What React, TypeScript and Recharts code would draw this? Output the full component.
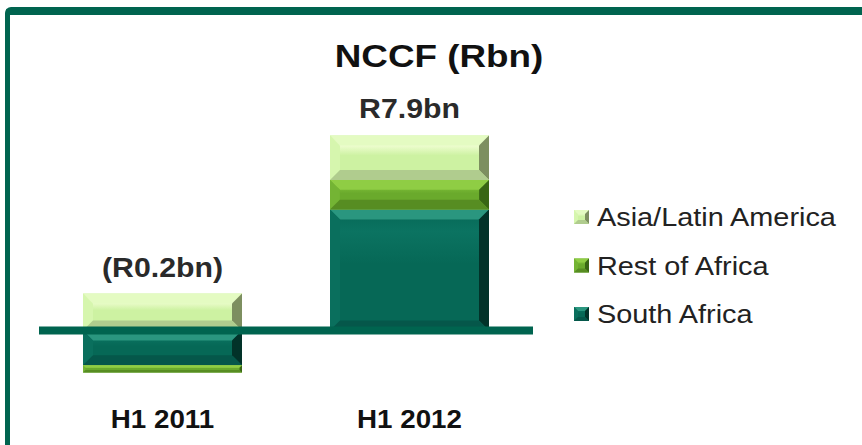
import React from 'react';
import { BarChart, Bar, XAxis, YAxis, ReferenceLine, LabelList, Legend } from 'recharts';

const periods = ['H1 2011', 'H1 2012'];
const southAfrica = [-1.4, 4.9];
const restOfAfrica = [-0.3, 1.2];
const asiaLatam = [1.5, 1.8];
const totals = [-0.2, 7.9];

const data = periods.map((period, i) => ({
    period,
    sa: southAfrica[i],
    roa: restOfAfrica[i],
    asia: asiaLatam[i],
    total: totals[i],
}));

const FONT = 'Arial, "Liberation Sans", sans-serif';
const GREEN = '#00644f';

// stacked bottom -> top
const series = [
    { key: 'sa', name: 'South Africa', face: '#066856', top: '#2a967f', left: '#0a6f5d', right: '#023229', bottom: '#05574a', shine: '#0b7361' },
    { key: 'roa', name: 'Rest of Africa', face: '#6aaa2c', top: '#8fcd44', left: '#74b434', right: '#386614', bottom: '#578d22', shine: '#80c23a' },
    { key: 'asia', name: 'Asia/Latin America', face: '#cdf2a2', top: '#e4fbc2', left: '#d6f6ae', right: '#7d8f60', bottom: '#b0cc8e', shine: '#f4ffd8' },
];

type Colors = typeof series[number];

function bevel(x: number, y: number, w: number, h: number, b: number, c: Colors, id: string) {
    return (
        <g>
            <rect x={x} y={y} width={w} height={h} fill={`url(#face-${id})`} />
            <polygon points={`${x},${y} ${x + w},${y} ${x + w - b},${y + b} ${x + b},${y + b}`} fill={c.top} />
            <polygon points={`${x},${y} ${x + b},${y + b} ${x + b},${y + h - b} ${x},${y + h}`} fill={c.left} />
            <polygon points={`${x + w},${y} ${x + w},${y + h} ${x + w - b},${y + h - b} ${x + w - b},${y + b}`} fill={c.right} />
            <polygon points={`${x},${y + h} ${x + b},${y + h - b} ${x + w - b},${y + h - b} ${x + w},${y + h}`} fill={c.bottom} />
        </g>
    );
}

const makeShape = (c: Colors) => (props: any) => {
    let { x, y, width: w, height: h } = props;
    if (h < 0) { y += h; h = -h; }
    if (!w || !h) return <g />;
    const b = Math.min(10, h / 3, w / 3);
    return bevel(x, y, w, h, b, c, c.key);
};

const formatTotal = (v: number) => (v < 0 ? `(R${Math.abs(v).toFixed(1)}bn)` : `R${v.toFixed(1)}bn`);

const TotalLabel = (props: any) => {
    const { x, y, width, index } = props;
    return (
        <text
            transform={`translate(${x + width / 2},${y - 17}) scale(1.08,1)`}
            textAnchor="middle"
            fontFamily={FONT}
            fontWeight="bold"
            fontSize={28}
            fill="#2a2a2a"
        >
            {formatTotal(totals[index])}
        </text>
    );
};

const PeriodTick = (props: any) => {
    const { x, y, payload } = props;
    return (
        <text
            transform={`translate(${x},${y + 48}) scale(1.11,1)`}
            textAnchor="middle"
            fontFamily={FONT}
            fontWeight="bold"
            fontSize={25}
            fill="#111"
        >
            {payload.value}
        </text>
    );
};

const LegendBox = () => {
    const rows = [...series].reverse();
    return (
        <svg width={280} height={150} style={{ display: 'block' }}>
            {rows.map((s, i) => {
                const base = 36 + i * 48.5;
                return (
                    <g key={s.key}>
                        {bevel(0, base - 16, 15, 14, 4, s, s.key)}
                        <text
                            transform={`translate(23,${base}) scale(1.11,1)`}
                            fontFamily={FONT}
                            fontSize={26}
                            fill="#222"
                        >
                            {s.name}
                        </text>
                    </g>
                );
            })}
        </svg>
    );
};

export default function App() {
    return (
        <div style={{ position: 'fixed', left: 0, top: 0, width: 862, height: 445, overflow: 'hidden', background: '#fff' }}>
            <div
                style={{
                    position: 'absolute', left: 5, top: 7, width: 900, height: 500,
                    borderTop: `8px solid ${GREEN}`, borderLeft: `5px solid ${GREEN}`, borderTopLeftRadius: 6,
                }}
            />
            <div
                style={{
                    position: 'absolute', left: 239, top: 41, width: 400, textAlign: 'center',
                    fontFamily: FONT, fontWeight: 'bold', fontSize: 32, lineHeight: '31px', color: '#111',
                    transform: 'scaleX(1.15)',
                }}
            >
                NCCF (Rbn)
            </div>
            <div style={{ position: 'absolute', left: 0, top: 0 }}>
                <BarChart
                    width={862}
                    height={445}
                    data={data}
                    stackOffset="sign"
                    margin={{ top: 133, right: 329, left: 39, bottom: 0 }}
                >
                    <defs>
                        {series.map((s) => (
                            <linearGradient key={s.key} id={`face-${s.key}`} x1="0" y1="0" x2="0" y2="1">
                                <stop offset="0%" stopColor={s.face} />
                                <stop offset="18%" stopColor={s.shine} />
                                <stop offset="45%" stopColor={s.face} />
                                <stop offset="100%" stopColor={s.face} />
                            </linearGradient>
                        ))}
                    </defs>
                    <XAxis
                        dataKey="period"
                        height={65}
                        axisLine={false}
                        tickLine={false}
                        tickSize={0}
                        tickMargin={0}
                        tick={<PeriodTick />}
                        interval={0}
                    />
                    <YAxis hide domain={[-2, 8]} />
                    <Legend
                        layout="vertical"
                        align="center"
                        verticalAlign="middle"
                        wrapperStyle={{ left: 574, top: 190, width: 280 }}
                        content={() => <LegendBox />}
                    />
                    {series.map((s) => (
                        <Bar
                            key={s.key}
                            dataKey={s.key}
                            name={s.name}
                            stackId="nccf"
                            barSize={159}
                            fill={s.face}
                            shape={makeShape(s)}
                            isAnimationActive={false}
                        >
                            {s.key === 'asia' && <LabelList dataKey="total" content={<TotalLabel />} />}
                        </Bar>
                    ))}
                    <ReferenceLine y={0} stroke={GREEN} strokeWidth={8} />
                </BarChart>
            </div>
        </div>
    );
}
